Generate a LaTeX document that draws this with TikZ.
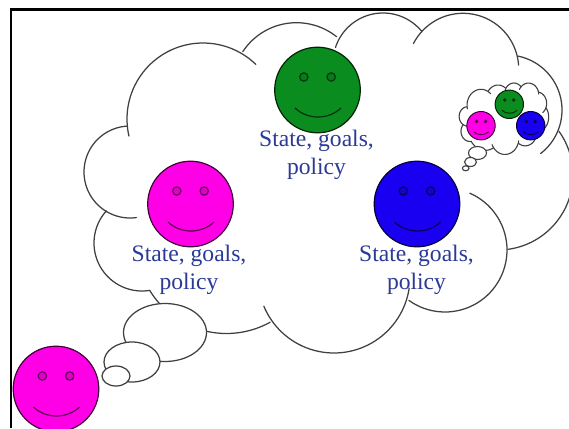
\documentclass[tikz,border=0pt]{standalone}
\usepackage{fontspec}
\setmainfont{Liberation Serif}
\definecolor{pinkface}{HTML}{FF00E6}
\definecolor{greenface}{HTML}{0A8C1E}
\definecolor{blueface}{HTML}{1A00F0}
\definecolor{labelblue}{HTML}{2B3A96}
\definecolor{cloudline}{HTML}{404040}
\tikzset{
  lobe/.style={draw=cloudline,line width=1.25pt,line cap=round},
  puff/.style={draw=cloudline,line width=1.25pt,fill=white},
  smalllobe/.style={draw=cloudline,line width=1.1pt,line cap=round},
  labeltext/.style={text=labelblue,align=center,font=\fontsize{23.6}{28.5}\selectfont,inner sep=0pt}
}
% big face: centre x, y, colour
\newcommand{\bigface}[3]{%
  \begin{scope}[shift={(#1,#2)}]
    \draw[fill=#3,draw=black!75!#3,line width=1.2pt] (0,0) circle[radius=42.8];
    \draw[fill=black!12!#3,draw=black!60!#3,line width=1.2pt] (-13.7,-13) circle[radius=4.2];
    \draw[fill=black!12!#3,draw=black!60!#3,line width=1.2pt] (13.7,-13) circle[radius=4.2];
    \draw[draw=black!65!#3,line width=1.2pt] (-22.5,18) .. controls (-10,30) and (11,30) .. (23.5,18);
  \end{scope}}
% small face
\newcommand{\tinyface}[3]{%
  \begin{scope}[shift={(#1,#2)}]
    \draw[fill=#3,draw=black!75!#3,line width=1pt] (0,0) circle[radius=14.2];
    \fill[black!70!#3] (-4.5,-4.3) circle[radius=1.9];
    \fill[black!70!#3] (4.5,-4.3) circle[radius=1.9];
    \draw[draw=black!65!#3,line width=1pt] (-7.4,6) .. controls (-3.3,10) and (3.6,10) .. (7.8,6);
  \end{scope}}
% cloud arcs: centre x / centre y / radius / start / end
\newcommand{\cloudarcs}[1]{%
  \foreach \cx/\cy/\rr/\aa/\bb in {
    203/119/76/46/193,
    130/172/46/94/278,
    142/243/48/138/279.5,
    226.5/243.5/90/211.8/299,
    334/277/76/202.6/351.5,
    445/250/62/234.4/426.4,
    498/175/75/277.7/395.6,
    507/110/55/-52.3/78.5,
    463/69/55.7/4/152.7,
    383/63/50/39/161.8,
    296.5/87/64.3/51.4/146.7}{
    \draw[#1] plot[domain=\aa:\bb,samples=50,smooth] ({\cx+\rr*cos(\x)},{\cy-\rr*sin(\x)});
  }}
\begin{document}
\begin{tikzpicture}[x=1pt,y=-1pt]
  \useasboundingbox (0,0) rectangle (569,428);
  \clip (0,0) rectangle (569,428);
  \fill[white] (0,0) rectangle (569,428);
  % frame
  \draw[black,line width=2.2pt] (11,428) -- (11,9.5) -- (569,9.5);
  % main thought cloud
  \cloudarcs{lobe}
  \draw[puff] (165,332.5) ellipse[x radius=41.5,y radius=29];
  \draw[puff] (132,362) ellipse[x radius=28,y radius=20];
  \draw[puff] (116,376) ellipse[x radius=14,y radius=10];
  % small thought cloud (reduced copy)
  \begin{scope}[shift={(443.8,80.3)},xscale=0.183,yscale=0.21]
    \cloudarcs{smalllobe}
  \end{scope}
  \draw[puff,line width=1.1pt] (477.5,153) ellipse[x radius=9,y radius=6.5];
  \draw[puff,line width=1.1pt] (470.5,162) ellipse[x radius=6,y radius=4.5];
  \draw[puff,line width=1.1pt] (465.7,168.3) ellipse[x radius=3.3,y radius=2.5];
  % faces
  \bigface{317.5}{90}{greenface}
  \bigface{190.5}{204}{pinkface}
  \bigface{417}{204}{blueface}
  \bigface{56}{389}{pinkface}
  \tinyface{509.3}{104.3}{greenface}
  \tinyface{481}{125.7}{pinkface}
  \tinyface{530.7}{125.7}{blueface}
  % labels
  \node[labeltext] (labelgreen) at (316.5,155) {State, goals,\\policy};
  \node[labeltext] (labelpink) at (189,270) {State, goals,\\policy};
  \node[labeltext] (labelblue) at (416.5,270) {State, goals,\\policy};
\end{tikzpicture}
\end{document}
